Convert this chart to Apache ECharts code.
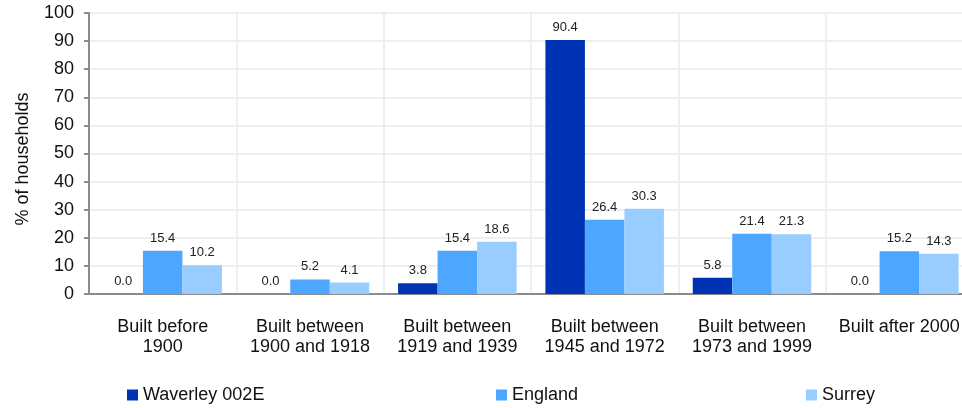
<!DOCTYPE html>
<html>
<head>
<meta charset="utf-8">
<script src="https://cdn.jsdelivr.net/npm/echarts@6/dist/echarts.min.js"></script>
<style>
  html, body { margin: 0; padding: 0; background: #fff; overflow: hidden; }
  /* the plot runs a little past the right edge of the window, as in the original */
  #chart { width: 975px; height: 408px; }
</style>
</head>
<body>
<div id="chart"></div>
<script>
const categories = [
  'Built before\n1900',
  'Built between\n1900 and 1918',
  'Built between\n1919 and 1939',
  'Built between\n1945 and 1972',
  'Built between\n1973 and 1999',
  'Built after 2000'
]
const seriesNames = ['Waverley 002E', 'England', 'Surrey']
const waverley = [0.0, 0.0, 3.8, 90.4, 5.8, 0.0]
const england = [15.4, 5.2, 15.4, 26.4, 21.4, 15.2]
const surrey = [10.2, 4.1, 18.6, 30.3, 21.3, 14.3]
const colors = ['#0033b3', '#4da6ff', '#99ccff']

const font = '"Liberation Sans", Arial, sans-serif'
const chart = echarts.init(document.getElementById('chart'))

// one legend per item, placed like the original
const legendLeft = [127, 496, 806]
const legends = seriesNames.map((name, i) => ({
  data: [name],
  left: legendLeft[i],
  top: 386,
  icon: 'rect',
  itemWidth: 11,
  itemHeight: 11,
  itemGap: 0,
  padding: 0,
  textStyle: { fontFamily: font, fontSize: 18, color: '#111' }
}))

const makeSeries = (name, data, i) => ({
  name: name,
  type: 'bar',
  data: data,
  barWidth: 39.5,
  barGap: '0%',
  itemStyle: { color: colors[i] },
  label: {
    show: true,
    position: 'top',
    distance: 6,
    formatter: p => p.value.toFixed(1),
    fontFamily: font,
    fontSize: 13,
    color: '#222'
  }
})

chart.setOption({
  animation: false,
  color: colors,
  legend: legends,
  grid: { left: 89, top: 13, width: 884, height: 281 },
  xAxis: {
    type: 'category',
    data: categories,
    axisLine: { lineStyle: { color: '#8c8c8c', width: 2 } },
    axisTick: { length: 6, lineStyle: { color: '#8c8c8c', width: 2 } },
    splitLine: { show: true, lineStyle: { color: '#efefef', width: 2 } },
    axisLabel: {
      interval: 0,
      margin: 23,
      fontFamily: font,
      fontSize: 18,
      lineHeight: 20,
      color: '#111'
    }
  },
  yAxis: {
    type: 'value',
    min: 0,
    max: 100,
    interval: 10,
    name: '% of households',
    nameLocation: 'middle',
    nameGap: 57,
    nameTextStyle: { fontFamily: font, fontSize: 18, color: '#111', padding: [0, 11, 0, 0] },
    axisLine: { show: true, lineStyle: { color: '#8c8c8c', width: 2 } },
    axisTick: { show: true, length: 5, lineStyle: { color: '#8c8c8c', width: 2 } },
    splitLine: { lineStyle: { color: '#efefef', width: 2 } },
    axisLabel: { margin: 15, fontFamily: font, fontSize: 18, color: '#111' }
  },
  series: [
    makeSeries(seriesNames[0], waverley, 0),
    makeSeries(seriesNames[1], england, 1),
    makeSeries(seriesNames[2], surrey, 2)
  ]
})
</script>
</body>
</html>
